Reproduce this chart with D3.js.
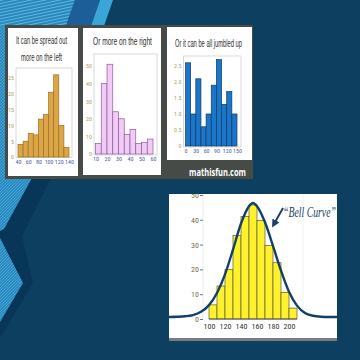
<!DOCTYPE html>
<html><head><meta charset="utf-8">
<script src="https://cdn.jsdelivr.net/npm/d3@7"></script>
<style>html,body{margin:0;padding:0;background:#0c3f60;} svg{display:block;}</style>
</head><body><svg id="c" width="360" height="360"></svg>
<script>
// ---------- data ----------
const leftBins = [40,50,60,70,80,90,100,110,120,130];
const leftCounts = [4,5,7.5,7,12,13.5,20.5,26,10,3];
const leftXTicks = [40,60,80,100,120,140];
const leftYTicks = [0,5,10,15,20,25];

const rightBins = [10,15,20,25,30,35,40,45,50,55];
const rightCounts = [6,40,51,24,20,11,14,6,6.5,8.5];
const rightXTicks = [10,20,30,40,50,60];
const rightYTicks = [0,10,20,30,40,50];

const jumbleBins = [0,15,30,45,60,75,90,105,120,135];
const jumbleValues = [2.6,1.0,2.1,0.6,1.0,1.9,2.7,1.3,1.7,1.0];
const jumbleXTicks = [0,30,60,90,120,150];
const jumbleYTicks = [0,0.5,1.0,1.5,2.0,2.5];

const bellBins = [100,110,120,130,140,150,160,170,180,190,200];
const bellCounts = [5.7,13.3,20,33.7,41.3,46,39.7,29.7,22.7,10.7,4.4];
const bellXTicks = [100,120,140,160,180,200];
const bellYTicks = [0,10,20,30,40,50];
const curveX = [50,60,70,80,90,100,110,120,130,140,150,155,160,170,180,190,200,210,220,230,240,250,260];
const curveY = [0.8,0.9,1.1,1.6,2.9,5.6,10.5,18,28,38.5,45.5,46.8,45.5,39,29.5,19.5,11,5.4,2.4,1.3,0.9,0.8,0.8];

const cardTitles = [["It can be spread out","more on the left"],["Or more on the right"],["Or it can be all jumbled up"]];
const sourceLabel = "mathisfun.com";
const bellLabel = "\u201CBell Curve\u201D";

// ---------- drawing ----------
const svg = d3.select("#c");
const defs = svg.append("defs");
const p1 = defs.append("pattern").attr("id","tex").attr("width",3).attr("height",3).attr("patternUnits","userSpaceOnUse");
p1.append("rect").attr("width",3).attr("height",3).attr("fill","#2b8bc0");
p1.append("path").attr("d","M0,3L3,0").attr("stroke","#49a7d8").attr("stroke-width",0.8);
const p2 = defs.append("pattern").attr("id","tex2").attr("width",6).attr("height",3).attr("patternUnits","userSpaceOnUse").attr("patternTransform","rotate(-12)");
p2.append("rect").attr("width",6).attr("height",3).attr("fill","#2a86bb");
p2.append("rect").attr("width",6).attr("height",1).attr("fill","#5ab8e2");

svg.append("rect").attr("width",360).attr("height",360).attr("fill","#0c3f60");
// decorative background shapes
svg.append("polygon").attr("points","0,0 112,0 52,176 22,236 33,283 0,338").attr("fill","#083659");
svg.append("polygon").attr("points","0,0 75,0 66,26 33,176 4,229 0,231").attr("fill","url(#tex)");
svg.append("polygon").attr("points","0,0 75,0 66,26 0,26").attr("fill","url(#tex2)");
svg.append("polygon").attr("points","75,0 100,0 91,26 66,26").attr("fill","#1b5e98");
svg.append("polygon").attr("points","100,0 113,0 104,26 91,26").attr("fill","#3aa6d8");
svg.append("polygon").attr("points","0,238 23,283 0,322").attr("fill","url(#tex)");

// backdrop
svg.append("rect").attr("x",5).attr("y",25).attr("width",248).attr("height",154).attr("fill","#464b47");
// cards
const cards = [[8,28,70,148],[83,28,78,147],[167,27,85,133]];
svg.selectAll("rect.card").data(cards).enter().append("rect").attr("class","card")
  .attr("x",d=>d[0]).attr("y",d=>d[1]).attr("width",d=>d[2]).attr("height",d=>d[3]).attr("fill","#ffffff");

const narrow = "'Liberation Sans Narrow','Roboto Condensed','Liberation Sans',sans-serif";
// text squeezed horizontally to a target width
function squeezed(parent,txt,cx,y,len,attrs,anchor){
  const g = parent.append("g");
  const t = g.append("text").attr("x",0).attr("y",0).attr("text-anchor",anchor||"middle").text(txt);
  Object.entries(attrs).forEach(([k,v])=>t.attr(k,v));
  const w = t.node().getComputedTextLength();
  g.attr("transform",`translate(${cx},${y}) scale(${len/w},1)`);
  return g;
}
const titleAttrs = {"font-family":"'Liberation Sans',Arial,sans-serif","font-size":10.5,"fill":"#2e2e2e"};
squeezed(svg,cardTitles[0][0],41.5,44,51,titleAttrs);
squeezed(svg,cardTitles[0][1],41.5,61,41,titleAttrs);
squeezed(svg,cardTitles[1][0],122.5,45,59,titleAttrs);
squeezed(svg,cardTitles[2][0],208.5,47,67,titleAttrs);

squeezed(svg,sourceLabel,217.5,176,57,{"font-family":"'Open Sans','DejaVu Sans',sans-serif","font-weight":"bold","font-size":11,"fill":"#ffffff"});

function hist(o){
  const g = svg.append("g");
  const x = d3.scaleLinear().domain(o.xd).range(o.xr);
  const y = d3.scaleLinear().domain(o.yd).range(o.yr);
  g.append("rect").attr("x",o.frame[0]).attr("y",o.frame[1]).attr("width",o.frame[2]-o.frame[0]).attr("height",o.frame[3]-o.frame[1])
    .attr("fill","none").attr("stroke","#c9c9c9").attr("stroke-width",0.7);
  g.selectAll("rect.bar").data(o.bins).enter().append("rect").attr("class","bar")
    .attr("x",d=>x(d)).attr("width",d=>x(d+o.w)-x(d))
    .attr("y",(d,i)=>y(o.vals[i])).attr("height",(d,i)=>y(0)-y(o.vals[i]))
    .attr("fill",o.fill).attr("stroke",o.stroke).attr("stroke-width",0.7);
  const ya = g.append("g").attr("transform",`translate(${o.frame[0]-1},0)`)
    .call(d3.axisLeft(y).tickValues(o.yt).tickSize(0).tickPadding(1).tickFormat(o.yf||d3.format("d")));
  ya.select(".domain").remove();
  ya.selectAll("text").attr("font-family",narrow).attr("font-size",6).attr("fill","#b39a68");
  const xa = g.append("g").attr("transform",`translate(0,${o.xaxY})`)
    .call(d3.axisBottom(x).tickValues(o.xt).tickSize(0).tickPadding(2).tickFormat(d3.format("d")));
  xa.select(".domain").remove();
  xa.selectAll("text").attr("font-family",narrow).attr("font-size",6).attr("fill","#4a5ca0");
}
hist({bins:leftBins,vals:leftCounts,w:10,xd:[40,140],xr:[18,69],yd:[0,25],yr:[157,78],frame:[16,68,72,157.5],
  yt:leftYTicks,xt:leftXTicks,xaxY:157.5,fill:"#dca646",stroke:"#9a7028"});
hist({bins:rightBins,vals:rightCounts,w:5,xd:[10,60],xr:[95.5,153],yd:[0,50],yr:[154,66],frame:[94,54,157,155],
  yt:rightYTicks,xt:rightXTicks,xaxY:155,fill:"#f1cbf5",stroke:"#8a5c98"});
hist({bins:jumbleBins,vals:jumbleValues,w:15,xd:[0,150],xr:[185.5,237],yd:[0,2.5],yr:[146,66],frame:[183.5,56,241,147],
  yt:jumbleYTicks,xt:jumbleXTicks,xaxY:147,fill:"#1b76c9",stroke:"#0e3b66",yf:d=>d===0?"0":d3.format(".1f")(d)});

// bell panel
svg.append("rect").attr("x",169).attr("y",338).attr("width",168).attr("height",3).attr("fill","#7a7d80");
svg.append("rect").attr("x",169).attr("y",194).attr("width",168).attr("height",144).attr("fill","#ffffff");
defs.append("clipPath").attr("id","bp").append("rect").attr("x",169).attr("y",194).attr("width",168).attr("height",144);
const bg = svg.append("g").attr("clip-path","url(#bp)");
const bx = d3.scaleLinear().domain([100,200]).range([209,289]);
const by = d3.scaleLinear().domain([0,50]).range([319,195]);
bg.append("line").attr("x1",203).attr("x2",203).attr("y1",194).attr("y2",320).attr("stroke","#e6e6e6").attr("stroke-width",0.8);
bg.append("line").attr("x1",303).attr("x2",303).attr("y1",194).attr("y2",320).attr("stroke","#efefef").attr("stroke-width",0.8);
const bya = bg.append("g").attr("transform","translate(203,0)")
  .call(d3.axisLeft(by).tickValues(bellYTicks).tickSize(3).tickPadding(1).tickFormat(d3.format("d")));
bya.select(".domain").remove();
bya.selectAll("line").attr("stroke","#777");
bya.selectAll("text").attr("font-family",narrow).attr("font-size",8).attr("fill","#7a6a50");
bg.selectAll("rect.bb").data(bellBins).enter().append("rect").attr("class","bb")
  .attr("x",d=>bx(d)).attr("width",d=>bx(d+10)-bx(d))
  .attr("y",(d,i)=>by(bellCounts[i])).attr("height",(d,i)=>by(0)-by(bellCounts[i]))
  .attr("fill","#fff22c").attr("stroke","#5d5a3c").attr("stroke-width",0.7);
bg.append("line").attr("x1",bx(100)).attr("x2",bx(210)).attr("y1",by(0)).attr("y2",by(0)).attr("stroke","#444").attr("stroke-width",0.8);
const bxa = bg.append("g").attr("transform","translate(0,319)")
  .call(d3.axisBottom(bx).tickValues(bellXTicks).tickSize(0).tickPadding(4).tickFormat(d3.format("d")));
bxa.select(".domain").remove();
bxa.selectAll("text").attr("font-family",narrow).attr("font-size",8).attr("fill","#333");
const line = d3.line().x((d,i)=>bx(curveX[i])).y((d,i)=>by(curveY[i])).curve(d3.curveMonotoneX);
bg.append("path").attr("d",line(curveX)).attr("fill","none").attr("stroke","#143f69").attr("stroke-width",2.4);
squeezed(svg,bellLabel,283,217,53,{"font-family":"'Liberation Serif','DejaVu Serif',serif","font-style":"italic","font-size":15,"fill":"#1a3f68"},"start");
defs.append("marker").attr("id","ah").attr("viewBox","0 0 10 10").attr("refX",5).attr("refY",5)
  .attr("markerWidth",4).attr("markerHeight",4).attr("orient","auto")
  .append("path").attr("d","M0,0L10,5L0,10z").attr("fill","#1a3f68");
bg.append("line").attr("x1",283).attr("y1",208).attr("x2",274).attr("y2",224).attr("stroke","#1a3f68").attr("stroke-width",2)
  .attr("marker-end","url(#ah)");
</script></body></html>
